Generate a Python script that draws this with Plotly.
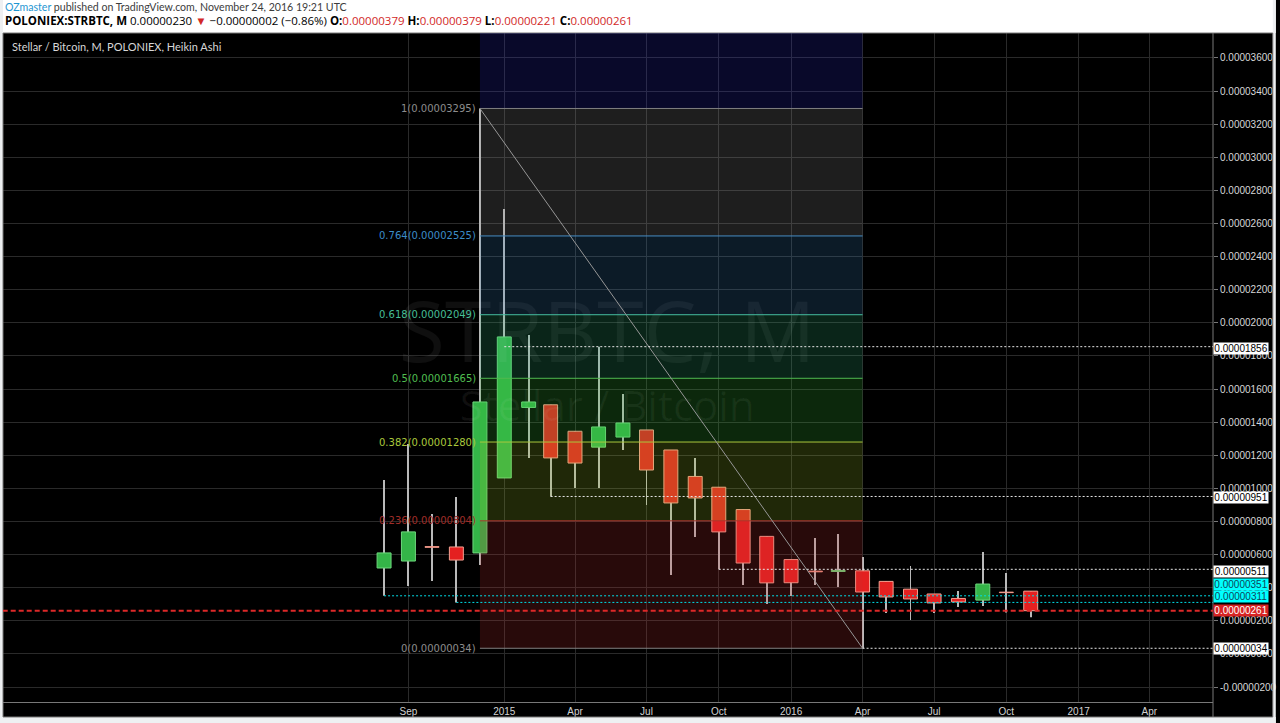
import plotly.graph_objects as go

# ---------------- data (values in satoshi, 1e-8 BTC) ----------------
months = ["2014-08-01", "2014-09-01", "2014-10-01", "2014-11-01", "2014-12-01",
          "2015-01-01", "2015-02-01", "2015-03-01", "2015-04-01", "2015-05-01",
          "2015-06-01", "2015-07-01", "2015-08-01", "2015-09-01", "2015-10-01",
          "2015-11-01", "2015-12-01", "2016-01-01", "2016-02-01", "2016-03-01",
          "2016-04-01", "2016-05-01", "2016-06-01", "2016-07-01", "2016-08-01",
          "2016-09-01", "2016-10-01", "2016-11-01"]
open_sat = [519, 561, 648, 646, 610, 1063, 1489, 1505, 1345, 1249, 1310, 1353, 1232, 1072,
            1007, 872, 710, 570, 500, 498, 502, 438, 391, 362, 335, 325, 373, 379]
high_sat = [1051, 1268, 845, 948, 3295, 2688, 1927, 1505, 1345, 1856, 1570, 1353, 1232, 1184,
            1007, 872, 710, 570, 700, 724, 585, 438, 531, 362, 380, 616, 489, 379]
low_sat = [351, 410, 440, 311, 537, 1063, 1184, 951, 1002, 1002, 1232, 900, 476, 706,
           511, 416, 302, 350, 416, 404, 34, 247, 205, 247, 283, 289, 250, 221]
close_sat = [610, 737, 644, 567, 1522, 1915, 1522, 1184, 1153, 1371, 1395, 1111, 912, 942,
             737, 549, 429, 430, 496, 504, 374, 344, 332, 308, 314, 422, 370, 261]

# Fibonacci retracement (Dec 2014 high -> Apr 2016 low)
fib_start = "2014-12-01"
fib_end = "2016-04-01"
fib_ratios = [1, 0.764, 0.618, 0.5, 0.382, 0.236, 0]
fib_levels_sat = [3295, 2525, 2049, 1665, 1280, 804, 34]
fib_line_colors = ["rgb(128,128,128)", "rgb(70,140,195)", "rgb(70,190,160)", "rgb(80,185,80)",
                   "rgb(170,200,60)", "rgb(170,55,45)", "rgb(128,128,128)"]
fib_label_colors = ["rgb(140,140,140)", "rgb(60,140,200)", "rgb(70,190,150)", "rgb(80,190,80)",
                    "rgb(170,200,60)", "rgb(160,45,40)", "rgb(140,140,140)"]
fib_zone_colors = ["rgba(45,45,210,0.2)",     # above 1
                   "rgba(150,150,150,0.2)",   # 1 - 0.764
                   "rgba(60,135,195,0.2)",    # 0.764 - 0.618
                   "rgba(50,185,125,0.2)",    # 0.618 - 0.5
                   "rgba(60,200,60,0.2)",     # 0.5 - 0.382
                   "rgba(160,200,40,0.2)",    # 0.382 - 0.236
                   "rgba(200,50,50,0.2)"]     # 0.236 - 0

# horizontal levels: (value sat, start date, colour, dash, width)
hlines = [(1856, "2015-01-01", "rgb(230,230,230)", "2px,2px", 1),
          (951, "2015-03-01", "rgb(230,230,230)", "2px,2px", 1),
          (511, "2015-10-01", "rgb(230,230,230)", "2px,2px", 1),
          (351, "2014-08-01", "rgb(0,220,230)", "2px,2px", 1),
          (311, "2014-11-01", "rgb(0,220,230)", "2px,2px", 1),
          (261, "2013-01-01", "rgb(220,40,40)", "5px,3px", 2),
          (34, "2016-04-01", "rgb(230,230,230)", "2px,2px", 1)]
# price-axis label boxes: (value sat, bg, fg, yshift px)
axis_boxes = [(1856, "white", "black", -2),
              (951, "white", "black", -1),
              (511, "white", "black", -2),
              (351, "rgb(0,255,255)", "rgb(15,70,90)", 11),
              (311, "rgb(0,255,255)", "rgb(15,70,90)", 6),
              (261, "rgb(215,35,35)", "white", 0),
              (34, "white", "black", 0)]

x_tickvals = ["2014-09-01", "2015-01-01", "2015-04-01", "2015-07-01", "2015-10-01", "2016-01-01",
              "2016-04-01", "2016-07-01", "2016-10-01", "2017-01-01", "2017-04-01"]
x_ticktext = ["Sep", "2015", "Apr", "Jul", "Oct", "2016", "Apr", "Jul", "Oct", "2017", "Apr"]
y_tick_sat = list(range(-200, 3601, 200))

X_RANGE = ["2013-04-03", "2017-06-21"]
Y_RANGE = [-2.906e-6, 37.51e-6]
SAT = 1e-8

# ---------------- figure ----------------
o = [v * SAT for v in open_sat]
h = [v * SAT for v in high_sat]
l = [v * SAT for v in low_sat]
c = [v * SAT for v in close_sat]
up = [cc >= oo for oo, cc in zip(o, c)]

GREEN_FILL, GREEN_LINE = "rgb(52,180,72)", "rgb(110,215,125)"
RED_FILL, RED_LINE = "rgb(228,32,32)", "rgb(245,160,145)"

DAY_MS = 86400000
PX_PER_DAY = 1214 / 1540.0

fig = go.Figure()

# watermark
fig.add_trace(go.Scatter(x=["2015-05-12"], y=[18.9e-6], mode="text", text=["STRBTC, M"],
                         textfont=dict(size=84, color="rgba(255,255,255,0.06)", family="Open Sans"),
                         hoverinfo="skip"))
fig.add_trace(go.Scatter(x=["2015-05-12"], y=[14.7e-6], mode="text", text=["Stellar / Bitcoin"],
                         textfont=dict(size=42, color="rgba(255,255,255,0.06)", family="Open Sans"),
                         hoverinfo="skip"))

# wicks
fig.add_trace(go.Bar(x=months, y=[hh - ll for hh, ll in zip(h, l)], base=l,
                     width=(1.0 / PX_PER_DAY) * DAY_MS,
                     marker=dict(color="rgb(185,185,185)", line=dict(width=0)),
                     hoverinfo="skip"))
# bodies (Heikin Ashi)
fig.add_trace(go.Bar(x=months, y=[abs(cc - oo) for oo, cc in zip(o, c)],
                     base=[min(oo, cc) for oo, cc in zip(o, c)],
                     width=(14.0 / PX_PER_DAY) * DAY_MS,
                     marker=dict(color=[GREEN_FILL if u else RED_FILL for u in up],
                                 line=dict(color=[GREEN_LINE if u else RED_LINE for u in up], width=1)),
                     customdata=list(zip(o, h, l, c)),
                     hovertemplate="O %{customdata[0]:.8f}<br>H %{customdata[1]:.8f}<br>"
                                   "L %{customdata[2]:.8f}<br>C %{customdata[3]:.8f}<extra></extra>"))

shapes = []
# frame: header, footer and side strips
shapes.append(dict(type="rect", xref="paper", yref="paper", x0=-3 / 1214, x1=1277 / 1214,
                   y0=1, y1=1 + 34 / 669, fillcolor="white", line=dict(width=0), layer="above"))
shapes.append(dict(type="rect", xref="paper", yref="paper", x0=-3 / 1214, x1=1277 / 1214,
                   y0=-21 / 669, y1=-15 / 669, fillcolor="rgb(238,240,242)", line=dict(width=0), layer="above"))
shapes.append(dict(type="rect", xref="paper", yref="paper", x0=-3 / 1214, x1=0,
                   y0=-21 / 669, y1=1 + 34 / 669, fillcolor="rgb(238,240,242)", line=dict(width=0), layer="above"))
shapes.append(dict(type="rect", xref="paper", yref="paper", x0=1274 / 1214, x1=1277 / 1214,
                   y0=-21 / 669, y1=1 + 34 / 669, fillcolor="rgb(238,240,242)", line=dict(width=0), layer="above"))
shapes.append(dict(type="rect", xref="paper", yref="paper", x0=0, x1=1274 / 1214,
                   y0=-15 / 669, y1=1, fillcolor="rgba(0,0,0,0)", line=dict(width=1, color="rgb(120,120,120)"),
                   layer="above"))
shapes.append(dict(type="line", xref="paper", yref="paper", x0=1, x1=1, y0=-15 / 669, y1=1,
                   line=dict(width=1, color="rgb(120,120,120)"), layer="above"))

# fib zones
zone_bounds = [Y_RANGE[1] / SAT + 10] + fib_levels_sat
for i, col in enumerate(fib_zone_colors):
    shapes.append(dict(type="rect", xref="x", yref="y", x0=fib_start, x1=fib_end,
                       y0=zone_bounds[i + 1] * SAT, y1=min(zone_bounds[i], Y_RANGE[1] / SAT) * SAT,
                       fillcolor=col, line=dict(width=0), layer="above"))
for lv, col in zip(fib_levels_sat, fib_line_colors):
    shapes.append(dict(type="line", xref="x", yref="y", x0=fib_start, x1=fib_end,
                       y0=lv * SAT, y1=lv * SAT, line=dict(color=col, width=1), layer="above"))
# trend line of the retracement
shapes.append(dict(type="line", xref="x", yref="y", x0=fib_start, x1=fib_end,
                   y0=fib_levels_sat[0] * SAT, y1=fib_levels_sat[-1] * SAT,
                   line=dict(color="rgb(150,150,150)", width=1), layer="above"))
# horizontal levels
for val, start, col, dash, w in hlines:
    shapes.append(dict(type="line", xref="x", yref="y", x0=start, x1="2018-06-01",
                       y0=val * SAT, y1=val * SAT, line=dict(color=col, width=w, dash=dash), layer="above"))

annotations = []
for r, lv, col in zip(fib_ratios, fib_levels_sat, fib_label_colors):
    annotations.append(dict(x=fib_start, y=lv * SAT, xref="x", yref="y", xanchor="right", yanchor="middle",
                            xshift=-2, text=f"{r:g}({lv * SAT:.8f})", showarrow=False,
                            font=dict(family="DejaVu Sans", size=10, color=col)))
for val, bg, fg, ys in axis_boxes:
    annotations.append(dict(x=1, y=val * SAT, xref="paper", yref="y", xanchor="left", yanchor="middle",
                            xshift=0, yshift=ys, text=f"{val * SAT:.8f}", showarrow=False, bgcolor=bg,
                            width=54, borderpad=0, align="center",
                            font=dict(family="Liberation Sans, Arial", size=10, color=fg)))

RED = "rgb(210,40,40)"
header1 = ('<span style="color:rgb(30,150,210)">OZmaster</span>'
           '<span style="color:rgb(60,60,60)"> published on TradingView.com, November 24, 2016 19:21 UTC</span>')
header2 = ('<b>POLONIEX:STRBTC, M</b> 0.00000230 <span style="color:' + RED + '">▼</span> '
           '−0.00000002 (−0.86%) '
           '<b>O:</b><span style="color:' + RED + '">0.00000379</span> '
           '<b>H:</b><span style="color:' + RED + '">0.00000379</span> '
           '<b>L:</b><span style="color:' + RED + '">0.00000221</span> '
           '<b>C:</b><span style="color:' + RED + '">0.00000261</span>')
annotations.append(dict(x=0, y=(702 - 7) / 669, xref="paper", yref="paper", xanchor="left", yanchor="middle",
                        text=header1, showarrow=False, xshift=0,
                        font=dict(family="Lato", size=10.6, color="rgb(60,60,60)")))
annotations.append(dict(x=0, y=(702 - 20) / 669, xref="paper", yref="paper", xanchor="left", yanchor="middle",
                        text=header2, showarrow=False, xshift=0,
                        font=dict(family="Open Sans", size=11.5, color="black")))
annotations.append(dict(x=7 / 1214, y=(702 - 46) / 669, xref="paper", yref="paper", xanchor="left",
                        yanchor="middle", text="Stellar / Bitcoin, M, POLONIEX, Heikin Ashi", showarrow=False,
                        font=dict(family="Lato", size=11, color="rgb(215,215,215)")))

fig.update_layout(
    width=1280, height=723,
    margin=dict(l=3, r=63, t=33, b=21),
    paper_bgcolor="black", plot_bgcolor="black",
    barmode="overlay", showlegend=False,
    shapes=shapes, annotations=annotations,
    xaxis=dict(type="date", range=X_RANGE, tickvals=x_tickvals, ticktext=x_ticktext,
               showgrid=True, gridcolor="rgb(42,42,42)", gridwidth=1, zeroline=False,
               showline=True, linecolor="rgb(120,120,120)", ticks="",
               tickfont=dict(family="Liberation Sans Narrow, Liberation Sans, Arial", size=10,
                             color="rgb(210,210,210)"),
               fixedrange=True),
    yaxis=dict(side="right", range=Y_RANGE, tickvals=[v * SAT for v in y_tick_sat],
               ticktext=[f"{v * SAT:.8f}" for v in y_tick_sat],
               showgrid=True, gridcolor="rgb(42,42,42)", gridwidth=1, zeroline=False,
               showline=False, ticks="outside", ticklen=4, tickcolor="rgb(120,120,120)",
               tickfont=dict(family="Liberation Sans, Arial", size=10, color="rgb(215,215,215)"),
               fixedrange=True),
)

fig.write_html("out.html", config={"displayModeBar": False},
               post_script="document.body.style.margin='0';document.body.style.padding='0';")
